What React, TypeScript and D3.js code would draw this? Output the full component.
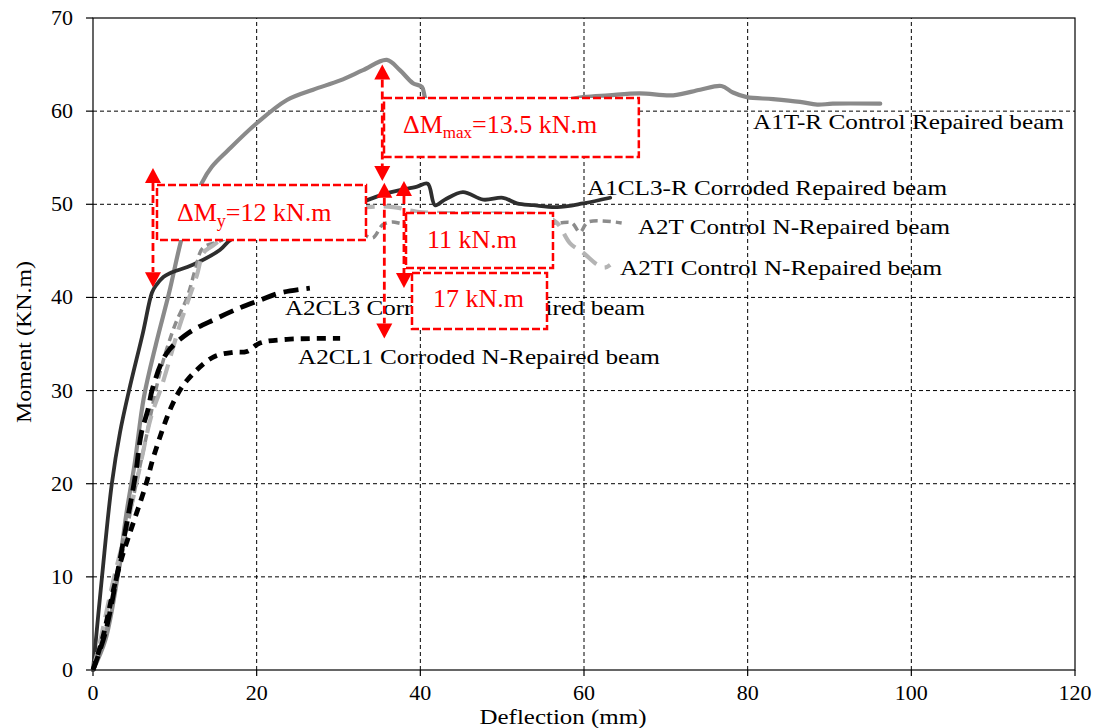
import React from "react";
import * as d3 from "d3";

// ---------- DATA ----------
const xTicks = [0, 20, 40, 60, 80, 100, 120];
const yTicks = [0, 10, 20, 30, 40, 50, 60, 70];

// [deflection (mm), moment (kN.m)]
const A1T_R: [number, number][] = [
  [0, 0], [1.5, 3.2], [3, 10], [4.1, 16.9], [5.1, 22.2], [6.2, 29.2], [7.7, 35], [9.3, 40.5],
  [11.2, 47.5], [13.3, 52.3], [14.5, 54], [16.5, 55.8], [20, 58.7], [23.7, 61.2], [26.9, 62.3],
  [30.2, 63.3], [33, 64.4], [35.9, 65.5], [37.5, 64.4], [39.1, 63], [40.2, 62.6], [40.6, 61.4],
  [41.5, 60.3], [45, 59.8], [50, 60.2], [55, 60.7], [59.9, 61.5], [63, 61.7], [66.8, 61.9],
  [70.9, 61.7], [74.2, 62.3], [76.8, 62.7], [78.2, 62], [79.9, 61.5], [83.1, 61.3], [86.4, 61],
  [88.5, 60.7], [90.4, 60.8], [96.2, 60.8],
];
const A1CL3_R: [number, number][] = [
  [0, 0], [1.1, 10], [2.3, 20], [3.3, 25.5], [4.4, 30], [6.1, 36.2], [7.2, 40.5], [7.7, 41.3],
  [8.6, 42.2], [9.4, 42.6], [12.2, 43.5], [15.5, 45.1], [17, 46.3], [25, 48.5], [33, 50.3],
  [35.9, 51.2], [39.6, 51.9], [40.9, 52.2], [41.8, 49.9], [43, 50.5], [45.2, 51.3], [47.7, 50.5],
  [50.1, 50.7], [51.8, 50.1], [53.8, 49.9], [56.7, 49.7], [59.9, 50.1], [63.2, 50.7],
];
const A2T: [number, number][] = [
  [0, 0], [1.5, 4], [3, 10], [4.8, 18], [6.5, 25], [8.2, 32], [10, 37], [11.5, 40], [12.5, 43],
  [13.4, 45.3], [15, 45.9], [18, 46.8], [25, 47.2], [33, 46.7], [34.2, 46.4], [35.4, 47.8], [36.6, 48.1],
  [37.9, 47.9], [45, 48], [56.7, 48], [58.5, 48], [59.5, 47], [60.5, 48.1], [64.6, 48],
];
const A2TI: [number, number][] = [
  [0, 0], [0.9, 3.2], [2.4, 9.3], [4.3, 16.1], [5.9, 22.5], [7.1, 27.2], [8.4, 30.5], [10.6, 37],
  [12.7, 42.4], [13.5, 44.8], [14.7, 45.6], [16, 46.4], [20, 47.6], [33.5, 49.7], [36.7, 49.7], [39.6, 49.2],
  [50, 49], [55, 48.8], [56.7, 48], [58.3, 45.8], [59.9, 44.8], [61.5, 43.6], [62.5, 43.2], [63.2, 43.5],
];
const A2CL3: [number, number][] = [
  [0, 0], [1.5, 4], [3, 10.5], [3.9, 14.7], [5.2, 21], [5.9, 25.4], [6.7, 27.9], [7.3, 30.3],
  [9, 34], [11.7, 36.2], [15, 37.7], [18, 38.9], [20.4, 39.7], [22.9, 40.5], [26.5, 41],
];
const A2CL1: [number, number][] = [
  [0, 0], [1.2, 3.5], [2.5, 8.6], [3.5, 12], [4.5, 14.7], [6.5, 20], [7.4, 22.9], [9.8, 28.7],
  [11.5, 31.1], [14.7, 33.6], [17.1, 34.1], [18.8, 34.2], [20.4, 35.1], [23.7, 35.5], [30.2, 35.6],
];

const seriesNames = [
  "A1T-R Control Repaired beam",
  "A1CL3-R Corroded Repaired beam",
  "A2T Control N-Repaired beam",
  "A2TI Control N-Repaired beam",
  "A2CL3 Corroded N-Repaired beam",
  "A2CL1 Corroded N-Repaired beam",
];
const seriesData = [A1T_R, A1CL3_R, A2T, A2TI, A2CL3, A2CL1];

// ---------- STYLE / LAYOUT ----------
const W = 1097;
const H = 728;
const FONT = '"Liberation Serif", "Times New Roman", Tinos, serif';

const seriesStyle = [
  { color: "#8a8a8a", width: 4.2, dash: "" },
  { color: "#2e2e2e", width: 3.8, dash: "" },
  { color: "#8c8c8c", width: 3.5, dash: "8,5" },
  { color: "#b4b4b4", width: 4.2, dash: "18,9" },
  { color: "#000000", width: 4.8, dash: "15,8" },
  { color: "#000000", width: 4.8, dash: "9,7" },
];
// label anchors in data units, with rendered width
const labelPos = [
  { x: 80.65, y: 58.1, w: 311 },
  { x: 60.37, y: 51.0, w: 360 },
  { x: 66.6, y: 46.8, w: 312 },
  { x: 64.4, y: 42.4, w: 322 },
  { x: 23.46, y: 38.1, w: 360 },
  { x: 25.05, y: 32.8, w: 362 },
];

// annotation boxes (data units)
const boxes = [
  { x0: 35.56, x1: 66.7, y0: 55.08, y1: 61.41 },
  { x0: 7.82, x1: 33.36, y0: 46.17, y1: 52.07 },
  { x0: 38.25, x1: 56.21, y0: 43.16, y1: 49.07 },
  { x0: 38.98, x1: 55.48, y0: 36.61, y1: 42.62 },
];
const arrows = [
  { x: 7.33, y1: 53.9, y2: 41.1 },
  { x: 35.35, y1: 65.0, y2: 52.5 },
  { x: 35.6, y1: 52.3, y2: 35.6 },
  { x: 38.0, y1: 52.5, y2: 41.0 },
];

export default function App() {
  const x = d3.scaleLinear().domain([0, 120]).range([93, 1075]);
  const y = d3.scaleLinear().domain([0, 70]).range([670, 18]);
  const line = d3
    .line<[number, number]>()
    .x((d) => x(d[0]))
    .y((d) => y(d[1]))
    .curve(d3.curveCatmullRom.alpha(0.5));

  const red = "#ff0000";
  const head = 15;
  const hw = 8;

  return (
    <div style={{ position: "absolute", left: 0, top: 0 }}>
      <svg width={W} height={H} style={{ display: "block", background: "#fff", fontFamily: FONT }}>
        <style>{`text, tspan { font-family: ${FONT}; }`}</style>
        <rect x={0} y={0} width={W} height={H} fill="#fff" />
        {/* grid */}
        {xTicks.slice(1, -1).map((t) => (
          <line key={"gx" + t} x1={x(t)} x2={x(t)} y1={y(0)} y2={y(70)} stroke="#000" strokeWidth={1} strokeDasharray="4,3" />
        ))}
        {yTicks.slice(1, -1).map((t) => (
          <line key={"gy" + t} x1={x(0)} x2={x(120)} y1={y(t)} y2={y(t)} stroke="#000" strokeWidth={1} strokeDasharray="4,3" />
        ))}
        {/* frame */}
        <rect x={x(0)} y={y(70)} width={x(120) - x(0)} height={y(0) - y(70)} fill="none" stroke="#000" strokeWidth={1.2} />
        {/* ticks */}
        {yTicks.map((t) => (
          <g key={"ty" + t}>
            <line x1={x(0) - 7} x2={x(0)} y1={y(t)} y2={y(t)} stroke="#000" strokeWidth={1.2} />
            <text x={73} y={y(t) + 7} textAnchor="end" fontSize={22} fill="#000">{t}</text>
          </g>
        ))}
        {xTicks.map((t) => (
          <g key={"tx" + t}>
            <line x1={x(t)} x2={x(t)} y1={y(0)} y2={y(0) + 6} stroke="#000" strokeWidth={1.2} />
            <text x={x(t)} y={700} textAnchor="middle" fontSize={22} fill="#000">{t}</text>
          </g>
        ))}
        <text x={563} y={724} textAnchor="middle" fontSize={22} textLength={167} lengthAdjust="spacingAndGlyphs" fill="#000">Deflection (mm)</text>
        <text transform={`translate(31,342) rotate(-90)`} textAnchor="middle" fontSize={21} textLength={162} lengthAdjust="spacingAndGlyphs" fill="#000">Moment (KN.m)</text>

        {/* series */}
        {seriesData.map((d, i) => (
          <path key={"s" + i} d={line(d) || ""} fill="none" stroke={seriesStyle[i].color} strokeWidth={seriesStyle[i].width}
            strokeDasharray={seriesStyle[i].dash || undefined} strokeLinejoin="round" strokeLinecap={seriesStyle[i].dash ? "butt" : "round"} />
        ))}
        {seriesNames.map((n, i) => (
          <text key={"l" + i} x={x(labelPos[i].x)} y={y(labelPos[i].y)} fontSize={21} textLength={labelPos[i].w}
            lengthAdjust="spacingAndGlyphs" fill="#000">{n}</text>
        ))}

        {/* annotation boxes */}
        {boxes.map((b, i) => (
          <rect key={"b" + i} x={x(b.x0)} y={y(b.y1)} width={x(b.x1) - x(b.x0)} height={y(b.y0) - y(b.y1)}
            fill="#fff" stroke={red} strokeWidth={2.5} strokeDasharray="8,3" />
        ))}
        <text x={x(37.88)} y={y(57.65)} fontSize={26} fill={red}>
          ΔM<tspan fontSize={17} dy={5}>max</tspan><tspan dy={-5}>=13.5 kN.m</tspan>
        </text>
        <text x={x(10.26)} y={y(48.2)} fontSize={26} fill={red}>
          ΔM<tspan fontSize={18} dy={6}>y</tspan><tspan dy={-6}>=12 kN.m</tspan>
        </text>
        <text x={x(40.82)} y={y(45.3)} fontSize={26} fill={red}>11 kN.m</text>
        <text x={x(41.55)} y={y(39.0)} fontSize={26} fill={red}>17 kN.m</text>

        {/* arrows */}
        {arrows.map((a, i) => {
          const px = x(a.x);
          const top = y(a.y1);
          const bot = y(a.y2);
          return (
            <g key={"a" + i}>
              <line x1={px} x2={px} y1={top + head} y2={bot - head} stroke={red} strokeWidth={2.8} strokeDasharray="8,4" />
              <polygon points={`${px},${top} ${px - hw},${top + head} ${px + hw},${top + head}`} fill={red} />
              <polygon points={`${px},${bot} ${px - hw},${bot - head} ${px + hw},${bot - head}`} fill={red} />
            </g>
          );
        })}
      </svg>
    </div>
  );
}
